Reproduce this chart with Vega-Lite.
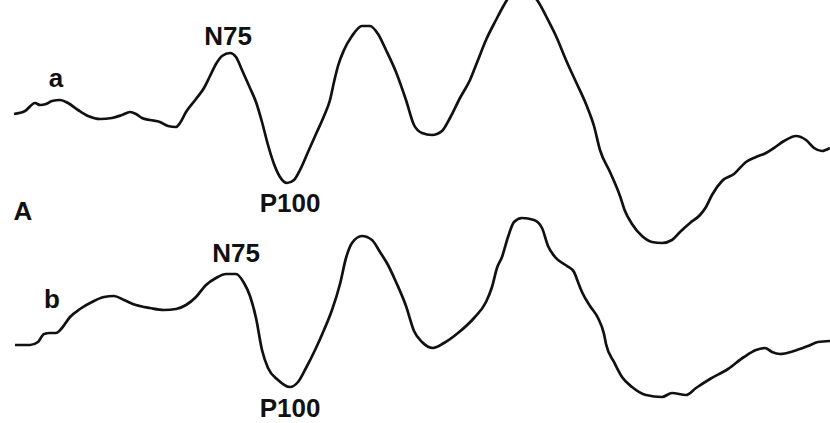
{
  "$schema": "https://vega.github.io/schema/vega-lite/v6.json",
  "width": 830,
  "height": 423,
  "autosize": {"type": "fit", "contains": "padding"},
  "padding": 0,
  "background": "white",
  "config": {"view": {"stroke": null}},
  "datasets": {
    "traces": [
      {"trace": "a", "t": 14, "amp": 114}, {"trace": "a", "t": 25, "amp": 111}, {"trace": "a", "t": 35, "amp": 103},
      {"trace": "a", "t": 40, "amp": 105}, {"trace": "a", "t": 46, "amp": 104}, {"trace": "a", "t": 52, "amp": 101},
      {"trace": "a", "t": 60, "amp": 100}, {"trace": "a", "t": 68, "amp": 103}, {"trace": "a", "t": 78, "amp": 110},
      {"trace": "a", "t": 88, "amp": 116}, {"trace": "a", "t": 100, "amp": 119}, {"trace": "a", "t": 112, "amp": 118},
      {"trace": "a", "t": 122, "amp": 115}, {"trace": "a", "t": 130, "amp": 112}, {"trace": "a", "t": 136, "amp": 114},
      {"trace": "a", "t": 142, "amp": 118}, {"trace": "a", "t": 150, "amp": 120}, {"trace": "a", "t": 160, "amp": 122},
      {"trace": "a", "t": 168, "amp": 126}, {"trace": "a", "t": 176, "amp": 127}, {"trace": "a", "t": 180, "amp": 123},
      {"trace": "a", "t": 186, "amp": 112}, {"trace": "a", "t": 196, "amp": 99}, {"trace": "a", "t": 204, "amp": 88},
      {"trace": "a", "t": 210, "amp": 76}, {"trace": "a", "t": 216, "amp": 64}, {"trace": "a", "t": 222, "amp": 56},
      {"trace": "a", "t": 230, "amp": 53}, {"trace": "a", "t": 236, "amp": 57}, {"trace": "a", "t": 242, "amp": 70},
      {"trace": "a", "t": 250, "amp": 88}, {"trace": "a", "t": 256, "amp": 102}, {"trace": "a", "t": 262, "amp": 122},
      {"trace": "a", "t": 268, "amp": 145}, {"trace": "a", "t": 274, "amp": 164}, {"trace": "a", "t": 280, "amp": 177},
      {"trace": "a", "t": 287, "amp": 183}, {"trace": "a", "t": 294, "amp": 180}, {"trace": "a", "t": 300, "amp": 170},
      {"trace": "a", "t": 308, "amp": 152}, {"trace": "a", "t": 316, "amp": 134}, {"trace": "a", "t": 324, "amp": 116},
      {"trace": "a", "t": 330, "amp": 100}, {"trace": "a", "t": 334, "amp": 82}, {"trace": "a", "t": 338, "amp": 66},
      {"trace": "a", "t": 344, "amp": 50}, {"trace": "a", "t": 352, "amp": 36}, {"trace": "a", "t": 362, "amp": 26},
      {"trace": "a", "t": 370, "amp": 26}, {"trace": "a", "t": 378, "amp": 34}, {"trace": "a", "t": 386, "amp": 50},
      {"trace": "a", "t": 396, "amp": 72}, {"trace": "a", "t": 406, "amp": 100}, {"trace": "a", "t": 414, "amp": 125},
      {"trace": "a", "t": 422, "amp": 133}, {"trace": "a", "t": 432, "amp": 135}, {"trace": "a", "t": 442, "amp": 131},
      {"trace": "a", "t": 450, "amp": 118}, {"trace": "a", "t": 460, "amp": 98}, {"trace": "a", "t": 470, "amp": 80},
      {"trace": "a", "t": 478, "amp": 60}, {"trace": "a", "t": 486, "amp": 40}, {"trace": "a", "t": 496, "amp": 20},
      {"trace": "a", "t": 504, "amp": 5}, {"trace": "a", "t": 511, "amp": -6}, {"trace": "a", "t": 519, "amp": -11},
      {"trace": "a", "t": 527, "amp": -10}, {"trace": "a", "t": 533, "amp": -5}, {"trace": "a", "t": 539, "amp": 3},
      {"trace": "a", "t": 546, "amp": 16}, {"trace": "a", "t": 556, "amp": 36}, {"trace": "a", "t": 566, "amp": 60},
      {"trace": "a", "t": 576, "amp": 82}, {"trace": "a", "t": 586, "amp": 104}, {"trace": "a", "t": 594, "amp": 126},
      {"trace": "a", "t": 600, "amp": 150}, {"trace": "a", "t": 610, "amp": 172}, {"trace": "a", "t": 620, "amp": 196},
      {"trace": "a", "t": 625, "amp": 211}, {"trace": "a", "t": 632, "amp": 224}, {"trace": "a", "t": 642, "amp": 236},
      {"trace": "a", "t": 652, "amp": 242}, {"trace": "a", "t": 662, "amp": 243}, {"trace": "a", "t": 672, "amp": 240},
      {"trace": "a", "t": 680, "amp": 232}, {"trace": "a", "t": 690, "amp": 223}, {"trace": "a", "t": 700, "amp": 215},
      {"trace": "a", "t": 706, "amp": 207}, {"trace": "a", "t": 712, "amp": 195}, {"trace": "a", "t": 722, "amp": 181},
      {"trace": "a", "t": 734, "amp": 174}, {"trace": "a", "t": 746, "amp": 162}, {"trace": "a", "t": 756, "amp": 157},
      {"trace": "a", "t": 766, "amp": 153}, {"trace": "a", "t": 774, "amp": 148}, {"trace": "a", "t": 784, "amp": 141},
      {"trace": "a", "t": 796, "amp": 136}, {"trace": "a", "t": 806, "amp": 140}, {"trace": "a", "t": 814, "amp": 148},
      {"trace": "a", "t": 822, "amp": 151}, {"trace": "a", "t": 830, "amp": 148},

      {"trace": "b", "t": 15, "amp": 345}, {"trace": "b", "t": 30, "amp": 345}, {"trace": "b", "t": 38, "amp": 342},
      {"trace": "b", "t": 44, "amp": 334}, {"trace": "b", "t": 50, "amp": 333}, {"trace": "b", "t": 56, "amp": 333},
      {"trace": "b", "t": 62, "amp": 328}, {"trace": "b", "t": 70, "amp": 317}, {"trace": "b", "t": 80, "amp": 309},
      {"trace": "b", "t": 92, "amp": 302}, {"trace": "b", "t": 104, "amp": 297}, {"trace": "b", "t": 114, "amp": 296},
      {"trace": "b", "t": 124, "amp": 300}, {"trace": "b", "t": 136, "amp": 305}, {"trace": "b", "t": 150, "amp": 308},
      {"trace": "b", "t": 164, "amp": 310}, {"trace": "b", "t": 176, "amp": 309}, {"trace": "b", "t": 186, "amp": 305},
      {"trace": "b", "t": 196, "amp": 297}, {"trace": "b", "t": 206, "amp": 285}, {"trace": "b", "t": 216, "amp": 278},
      {"trace": "b", "t": 226, "amp": 274}, {"trace": "b", "t": 236, "amp": 274}, {"trace": "b", "t": 244, "amp": 283},
      {"trace": "b", "t": 250, "amp": 296}, {"trace": "b", "t": 256, "amp": 318}, {"trace": "b", "t": 262, "amp": 350},
      {"trace": "b", "t": 268, "amp": 368}, {"trace": "b", "t": 278, "amp": 380}, {"trace": "b", "t": 290, "amp": 387},
      {"trace": "b", "t": 298, "amp": 382}, {"trace": "b", "t": 306, "amp": 368}, {"trace": "b", "t": 316, "amp": 348},
      {"trace": "b", "t": 324, "amp": 330}, {"trace": "b", "t": 332, "amp": 310}, {"trace": "b", "t": 340, "amp": 284},
      {"trace": "b", "t": 346, "amp": 258}, {"trace": "b", "t": 352, "amp": 243}, {"trace": "b", "t": 362, "amp": 236},
      {"trace": "b", "t": 372, "amp": 240}, {"trace": "b", "t": 380, "amp": 252}, {"trace": "b", "t": 388, "amp": 265},
      {"trace": "b", "t": 396, "amp": 282}, {"trace": "b", "t": 406, "amp": 306}, {"trace": "b", "t": 414, "amp": 331},
      {"trace": "b", "t": 422, "amp": 342}, {"trace": "b", "t": 433, "amp": 348}, {"trace": "b", "t": 444, "amp": 343},
      {"trace": "b", "t": 458, "amp": 333}, {"trace": "b", "t": 474, "amp": 318}, {"trace": "b", "t": 486, "amp": 302},
      {"trace": "b", "t": 492, "amp": 287}, {"trace": "b", "t": 497, "amp": 268}, {"trace": "b", "t": 502, "amp": 257},
      {"trace": "b", "t": 508, "amp": 237}, {"trace": "b", "t": 514, "amp": 222}, {"trace": "b", "t": 522, "amp": 218},
      {"trace": "b", "t": 534, "amp": 220}, {"trace": "b", "t": 542, "amp": 228}, {"trace": "b", "t": 548, "amp": 246},
      {"trace": "b", "t": 555, "amp": 257}, {"trace": "b", "t": 567, "amp": 266}, {"trace": "b", "t": 574, "amp": 272},
      {"trace": "b", "t": 578, "amp": 282}, {"trace": "b", "t": 582, "amp": 292}, {"trace": "b", "t": 590, "amp": 306},
      {"trace": "b", "t": 598, "amp": 318}, {"trace": "b", "t": 604, "amp": 334}, {"trace": "b", "t": 606, "amp": 344},
      {"trace": "b", "t": 614, "amp": 362}, {"trace": "b", "t": 622, "amp": 377}, {"trace": "b", "t": 632, "amp": 387},
      {"trace": "b", "t": 646, "amp": 395}, {"trace": "b", "t": 662, "amp": 397}, {"trace": "b", "t": 672, "amp": 393},
      {"trace": "b", "t": 686, "amp": 395}, {"trace": "b", "t": 696, "amp": 388}, {"trace": "b", "t": 710, "amp": 379},
      {"trace": "b", "t": 728, "amp": 369}, {"trace": "b", "t": 744, "amp": 357}, {"trace": "b", "t": 756, "amp": 350},
      {"trace": "b", "t": 765, "amp": 348}, {"trace": "b", "t": 772, "amp": 352}, {"trace": "b", "t": 780, "amp": 354},
      {"trace": "b", "t": 794, "amp": 351}, {"trace": "b", "t": 808, "amp": 346}, {"trace": "b", "t": 818, "amp": 342},
      {"trace": "b", "t": 830, "amp": 341}
    ],
    "labels": [
      {"label": "a", "t": 56, "amp": 87},
      {"label": "N75", "t": 228, "amp": 45},
      {"label": "P100", "t": 290, "amp": 212},
      {"label": "A", "t": 23, "amp": 220},
      {"label": "b", "t": 52, "amp": 308},
      {"label": "N75", "t": 236, "amp": 262},
      {"label": "P100", "t": 290, "amp": 417}
    ]
  },
  "layer": [
    {
      "data": {"name": "traces"},
      "mark": {"type": "line", "interpolate": "monotone", "color": "#111111", "strokeWidth": 2.7, "clip": true},
      "encoding": {
        "x": {"field": "t", "type": "quantitative", "scale": {"domain": [0, 830], "nice": false, "zero": false}, "axis": null},
        "y": {"field": "amp", "type": "quantitative", "scale": {"domain": [0, 423], "nice": false, "zero": false, "reverse": true}, "axis": null},
        "detail": {"field": "trace"}
      }
    },
    {
      "data": {"name": "labels"},
      "mark": {"type": "text", "font": "Liberation Sans", "fontWeight": "bold", "fontSize": 26, "color": "#111111", "align": "center", "baseline": "alphabetic"},
      "encoding": {
        "x": {"field": "t", "type": "quantitative"},
        "y": {"field": "amp", "type": "quantitative"},
        "text": {"field": "label"}
      }
    }
  ]
}
